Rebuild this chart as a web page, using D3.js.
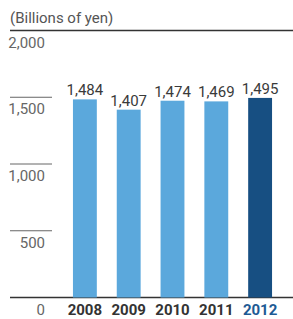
<!DOCTYPE html>
<html>
<head>
<meta charset="utf-8">
<script src="https://cdn.jsdelivr.net/npm/d3@7"></script>
<style>
  html, body { margin: 0; padding: 0; background: #fff; }
  svg { display: block; font-family: Roboto, "Noto Sans", sans-serif; }
</style>
</head>
<body>
<svg id="chart" width="293" height="319"></svg>
<script>
const years = ["2008", "2009", "2010", "2011", "2012"];
const values = [1484, 1407, 1474, 1469, 1495];
const ticks = [0, 500, 1000, 1500, 2000];
const unitLabel = "(Billions of yen)";

const svg = d3.select("#chart");
const W = 293;

const y = d3.scaleLinear().domain([0, 2000]).range([297.5, 30.5]);
const x = d3.scaleBand().domain(years).range([62, 283]).paddingInner(0.455).paddingOuter(0.25);

const fmt = d3.format(",");
const last = years[years.length - 1];

// unit label
svg.append("text").attr("x", 10).attr("y", 23)
  .attr("font-size", 15).attr("fill", "#555").text(unitLabel);

// short tick lines + labels under them
ticks.forEach((t) => {
  const full = t === 0 || t === 2000;
  svg.append("line")
    .attr("x1", 10).attr("x2", full ? W : 52)
    .attr("y1", y(t)).attr("y2", y(t))
    .attr("stroke", full ? "#333" : "#666").attr("stroke-width", full ? 1.3 : 1);
  svg.append("text")
    .attr("x", 45).attr("y", y(t) + 17)
    .attr("text-anchor", "end").attr("font-size", 15).attr("fill", "#666")
    .text(fmt(t));
});

// bars
svg.selectAll("rect.bar").data(values).join("rect")
  .attr("class", "bar")
  .attr("x", (d, i) => x(years[i]))
  .attr("width", x.bandwidth())
  .attr("y", (d) => y(d))
  .attr("height", (d) => y(0) - y(d))
  .attr("fill", (d, i) => years[i] === last ? "#174f82" : "#5ba8dc");

// value labels
svg.selectAll("text.val").data(values).join("text")
  .attr("class", "val")
  .attr("x", (d, i) => x(years[i]) + x.bandwidth() / 2)
  .attr("y", (d) => y(d) - 4)
  .attr("text-anchor", "middle").attr("font-size", 15).attr("fill", "#3a3a3a")
  .text((d) => fmt(d));

// year labels
svg.selectAll("text.yr").data(years).join("text")
  .attr("class", "yr")
  .attr("x", (d) => x(d) + x.bandwidth() / 2)
  .attr("y", 315)
  .attr("text-anchor", "middle").attr("font-size", 15).attr("font-weight", "bold")
  .attr("fill", (d) => d === last ? "#1d5a94" : "#333")
  .text((d) => d);
</script>
</body>
</html>
